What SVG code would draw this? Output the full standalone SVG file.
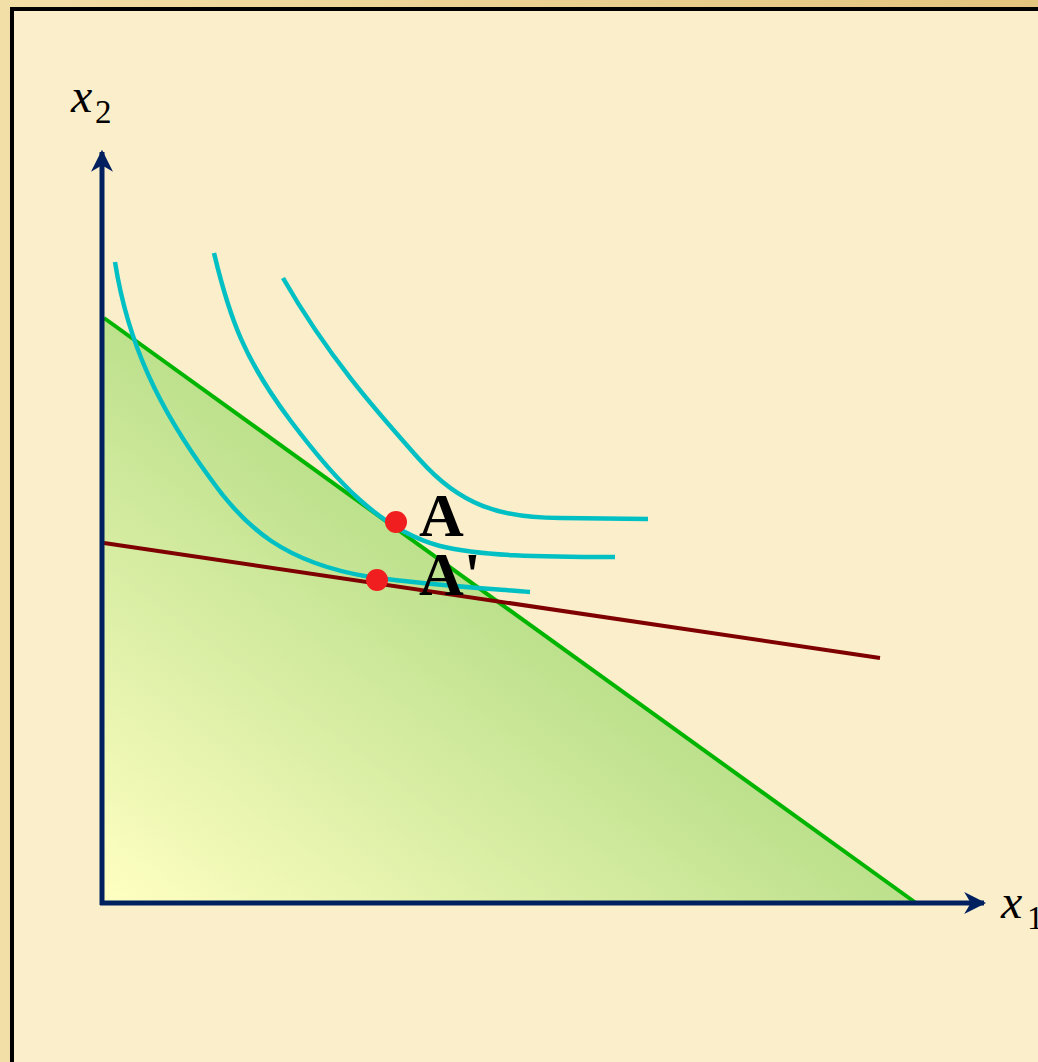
<svg xmlns="http://www.w3.org/2000/svg" width="1038" height="1062" viewBox="0 0 1038 1062">
<defs>
<linearGradient id="gold" x1="0" y1="0" x2="1" y2="0">
<stop offset="0" stop-color="#F2DFA8"/><stop offset="1" stop-color="#E2C47E"/>
</linearGradient>
<linearGradient id="fillg" gradientUnits="userSpaceOnUse" x1="104" y1="903" x2="400" y2="500">
<stop offset="0" stop-color="#FFFFC2"/><stop offset="1" stop-color="#B9DF8A"/>
</linearGradient>
<marker id="arr" viewBox="0 0 10 10" refX="9" refY="5" markerWidth="4.4" markerHeight="4.4" orient="auto" markerUnits="strokeWidth">
<path d="M0,0 L10,5 L0,10 L3,5 z" fill="#002060"/>
</marker>
<style>
.ax{stroke:#002060;stroke-width:5;fill:none}
.ic{stroke:#00C0C4;stroke-width:4.5;fill:none;stroke-linecap:butt}
.pt{fill:#F01E1E}
.lbl{font-family:"Liberation Serif",serif;font-weight:bold;font-size:62px;fill:#000}
.var{font-family:"Liberation Serif",serif;font-style:italic;font-size:48px;fill:#000}
.sub{font-family:"Liberation Serif",serif;font-size:33px;fill:#000}
</style>
</defs>
<rect x="0" y="0" width="1038" height="1062" fill="url(#gold)"/>
<rect x="12" y="9" width="1030" height="1060" fill="#FBEECA" stroke="#000" stroke-width="4"/>
<g id="region">
<polygon points="104,318 104,903 916,903" fill="url(#fillg)"/>
</g>
<g id="connectors">
<line id="budget1" x1="104" y1="318" x2="916" y2="903" stroke="#00B400" stroke-width="4"/>
<line id="budget2" x1="104" y1="543" x2="880" y2="658" stroke="#7F0000" stroke-width="4"/>
<path id="ic1" class="ic" d="M115,262 C128,345 160,410 210,478 C245,528 285,563 370,577 C430,585 480,588 530,592"/>
<path id="ic2" class="ic" d="M214,253 C230,320 245,360 290,420 C335,480 380,530 440,546 C480,556 540,557 615,557"/>
<path id="ic3" class="ic" d="M283,278 C330,360 380,415 420,460 C460,505 500,518 560,518 L648,519"/>
<line class="ax" x1="102" y1="905" x2="102" y2="152" marker-end="url(#arr)"/>
<line class="ax" x1="100" y1="903" x2="984" y2="903" marker-end="url(#arr)"/>
</g>
<g id="pointA">
<circle class="pt" cx="396" cy="522" r="11"/>
<text class="lbl" x="419" y="536">A</text>
</g>
<g id="pointA2">
<circle class="pt" cx="377" cy="580" r="11"/>
<text class="lbl" x="419" y="595">A'</text>
</g>
<g id="axisX2">
<text class="var" x="71" y="112">x</text><text class="sub" x="95" y="123">2</text>
</g>
<g id="axisX1">
<text class="var" x="1001" y="918">x</text><text class="sub" x="1027" y="929">1</text>
</g>
</svg>
